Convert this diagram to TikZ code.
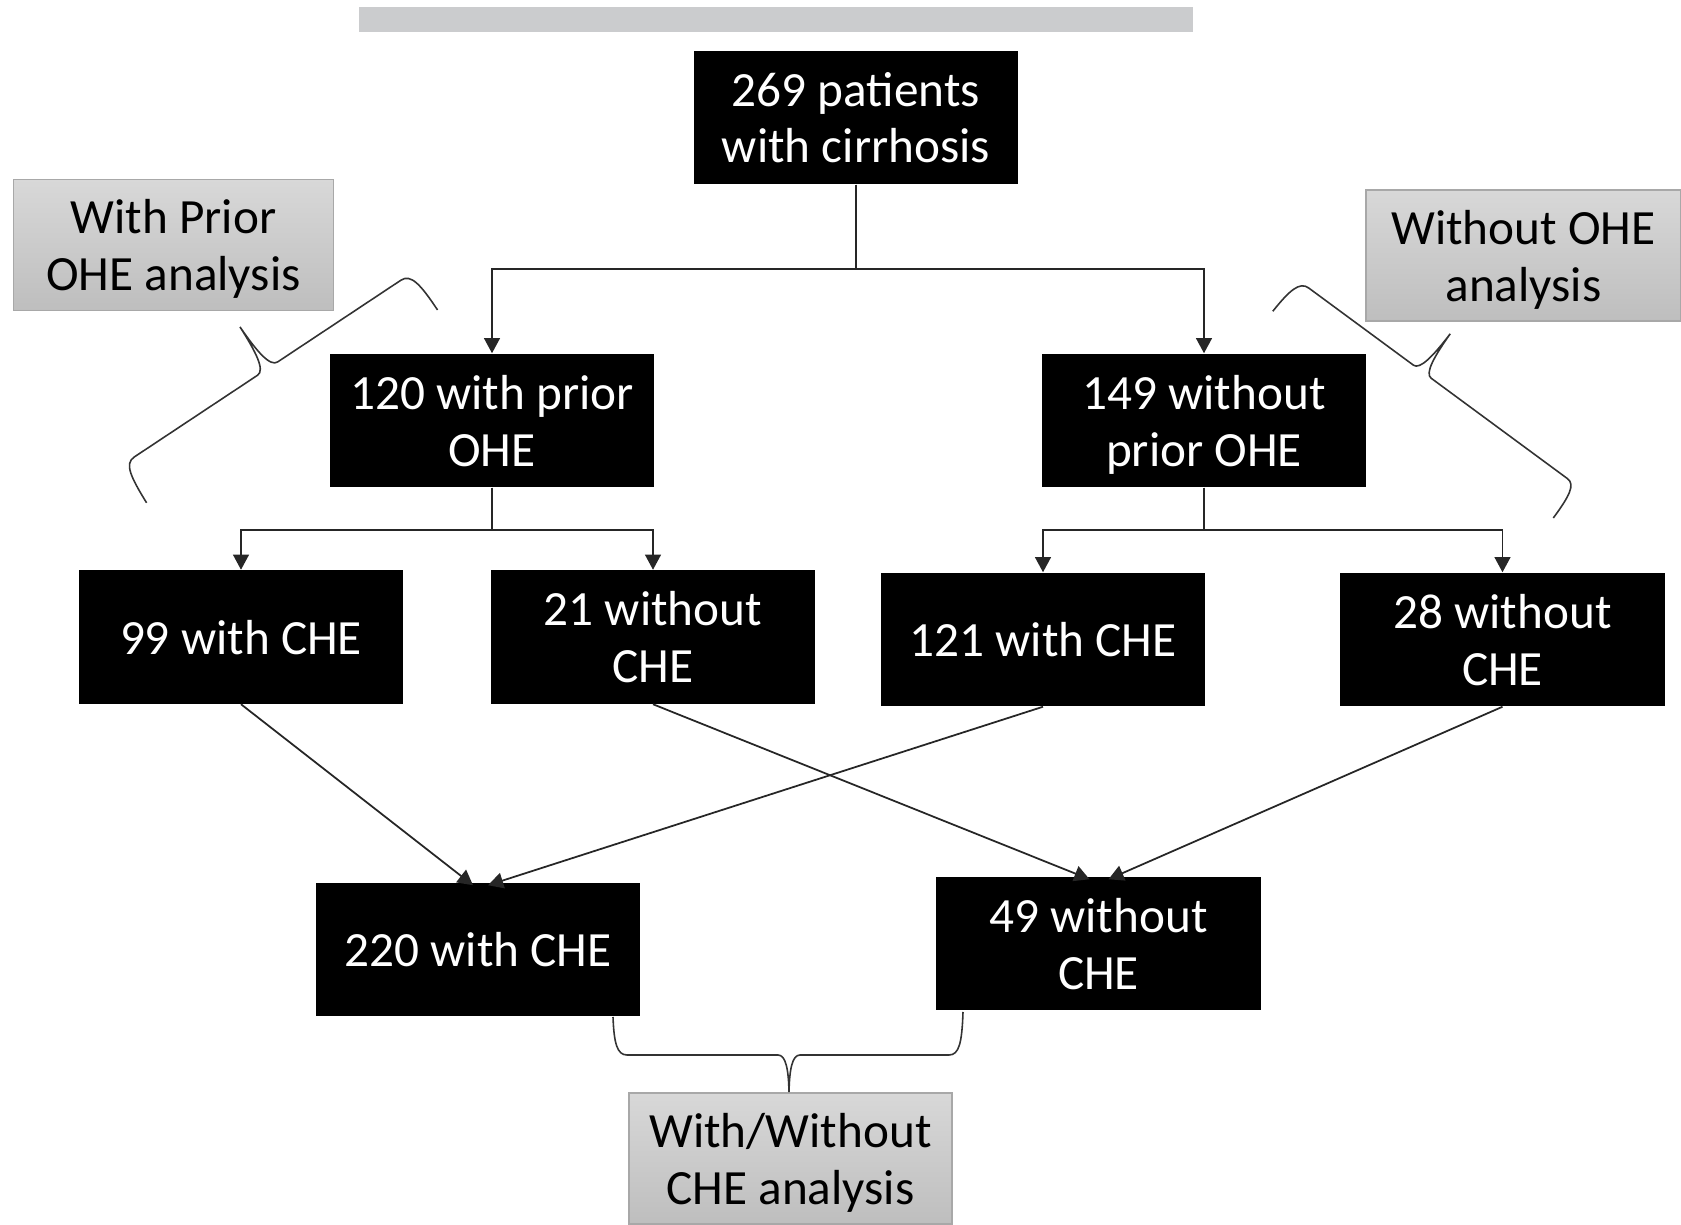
\documentclass[tikz,border=0pt]{standalone}
\usepackage{fontspec}
\setmainfont{Carlito}
\usetikzlibrary{arrows.meta}
\definecolor{barcol}{HTML}{CBCCCE}
\definecolor{lbltop}{HTML}{D8D8D8}
\definecolor{lblbot}{HTML}{BEBEBE}
\definecolor{lblline}{HTML}{A8A8A8}
\begin{document}
\begin{tikzpicture}[x=0.01cm,y=-0.01cm]
    \tikzset{
    box/.style={fill=black, text=white, minimum width=3.24cm, minimum height=1.33cm, inner sep=0pt, align=center, text depth=0pt, font=\fontsize{14}{16.2}\selectfont},
    lbl/.style={draw=lblline, top color=lbltop, bottom color=lblbot, text=black, minimum width=3.2cm, minimum height=1.31cm, inner sep=0pt, align=center, text depth=0pt, font=\fontsize{14}{16.2}\selectfont},
    conn/.style={draw=black!85, line width=0.5pt, -{Triangle[width=4.5pt,length=4.3pt]}},
    brc/.style={draw=black!80, line width=0.45pt},
    }
    \useasboundingbox (0,0) rectangle (1681,1225);
    \fill[barcol] (359,7) rectangle (1193,32);

    \node[box] (n269) at (856,117.5) {269 patients\\with cirrhosis};
    \node[box] (n120) at (492,420.5) {120 with prior\\OHE};
    \node[box] (n149) at (1204,420.5) {149 without\\prior OHE};
    \node[box] (n99) at (241,637) {99 with CHE};
    \node[box] (n21) at (653,637) {21 without\\CHE};
    \node[box] (n121) at (1043,639.5) {121 with CHE};
    \node[box] (n28) at (1502.5,639.5) {28 without\\CHE};
    \node[box] (n220) at (478,949.5) {220 with CHE};
    \node[box] (n49) at (1098.5,943.5) {49 without\\CHE};

    \node[lbl] (lprior) at (173.5,245) {With Prior\\OHE analysis};
    \node[lbl, minimum width=3.15cm] (lnoohe) at (1523.5,255.5) {Without OHE\\analysis};
    \node[lbl, minimum width=3.23cm] (lche) at (790.5,1158.5) {With/Without\\CHE analysis};

    \draw[conn] (n269.south) -- ++(0,84) -| (n120.north);
    \draw[conn] (n269.south) -- ++(0,84) -| (n149.north);
    \draw[conn] (n120.south) -- ++(0,42) -| (n99.north);
    \draw[conn] (n120.south) -- ++(0,42) -| (n21.north);
    \draw[conn] (n149.south) -- ++(0,42) -| (n121.north);
    \draw[conn] (n149.south) -- ++(0,42) -| (n28.north);

    \draw[conn] (n99.south) -- ([xshift=-0.05cm,yshift=-0.03cm]n220.north);
    \draw[conn] (n121.south) -- ([xshift=0.1cm,yshift=-0.03cm]n220.north);
    \draw[conn] (n21.south) -- ([xshift=-0.09cm,yshift=-0.03cm]n49.north);
    \draw[conn] (n28.south) -- ([xshift=0.1cm,yshift=-0.03cm]n49.north);

    % braces
    \begin{scope}[shift={(267.6,368.6)}, x={(0.00833cm,0.00553cm)}, y={(-0.00553cm,0.00833cm)}]
    \draw[brc] (-175,-45) .. controls (-174,-15) and (-172,0) .. (-160,0) -- (-12,0)
        .. controls (-3,0) and (-0.5,20) .. (0,50) .. controls (0.5,20) and (3,0) .. (12,0)
        -- (160,0) .. controls (172,0) and (174,-15) .. (174,-45);
    \end{scope}
    \begin{scope}[shift={(1422.3,371.7)}, x={(0.00805cm,-0.00594cm)}, y={(0.00594cm,0.00805cm)}]
    \draw[brc] (-156,-40) .. controls (-155,-13) and (-152,0) .. (-141,0) -- (-11,0)
        .. controls (-3,0) and (-0.5,19) .. (0,47) .. controls (0.5,19) and (3,0) .. (11,0)
        -- (180,0) .. controls (190,0) and (192,-13) .. (192,-40);
    \end{scope}
    \begin{scope}[shift={(789,1055)}]
    \draw[brc] (-176,-38) .. controls (-175,-12) and (-172,0) .. (-162,0) -- (-11,0)
        .. controls (-3,0) and (-0.5,15) .. (0,37) .. controls (0.5,15) and (3,0) .. (11,0)
        -- (160,0) .. controls (170,0) and (173,-12) .. (174,-43);
    \end{scope}
\end{tikzpicture}
\end{document}
